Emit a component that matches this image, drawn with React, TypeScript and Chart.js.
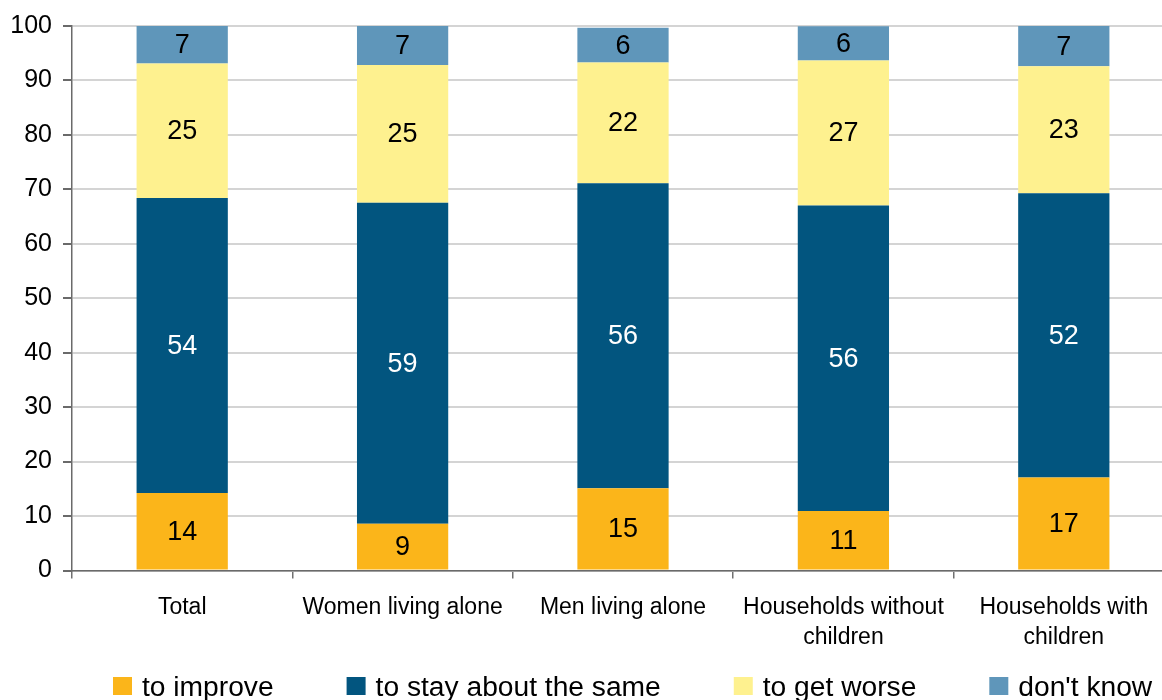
import React, { useEffect, useRef } from "react";
import { Chart, registerables } from "chart.js";

Chart.register(...registerables);

// Expectations by household type (%), stacked bottom to top
const categories: (string | string[])[] = [
  "Total",
  "Women living alone",
  "Men living alone",
  ["Households without", "children"],
  ["Households with", "children"],
];

const seriesNames = ["to improve", "to stay about the same", "to get worse", "don't know"];

const toImprove = [14.25, 8.6, 15.1, 10.95, 17.1];
const toStaySame = [54.15, 58.95, 56.0, 56.1, 52.2];
const toGetWorse = [24.7, 25.3, 22.2, 26.6, 23.3];
const dontKnow = [6.9, 7.2, 6.4, 6.3, 7.4];

const yTicks = [0, 10, 20, 30, 40, 50, 60, 70, 80, 90, 100];

const seriesColors = ["#FBB51A", "#02557F", "#FEF18F", "#5F96BA"];
const labelColors = ["#000000", "#FFFFFF", "#000000", "#000000"];

const FONT = "'Liberation Sans', Arial, Helvetica, sans-serif";

// Value labels centred inside every stacked segment
const segmentLabels = {
  id: "segmentLabels",
  afterDatasetsDraw(chart: any) {
    const ctx = chart.ctx;
    ctx.save();
    ctx.font = `27px ${FONT}`;
    ctx.textAlign = "center";
    ctx.textBaseline = "middle";
    chart.data.datasets.forEach((ds: any, i: number) => {
      const meta = chart.getDatasetMeta(i);
      meta.data.forEach((bar: any, j: number) => {
        const v = ds.data[j];
        const { x, y, base } = bar.getProps(["x", "y", "base"], true);
        ctx.fillStyle = labelColors[i];
        ctx.fillText(String(Math.round(v)), x, (y + base) / 2 + 1);
      });
    });
    ctx.restore();
  },
};

// Single-row legend along the bottom edge
const bottomLegend = {
  id: "bottomLegend",
  afterDraw(chart: any) {
    const ctx = chart.ctx;
    ctx.save();
    ctx.font = `28.2px ${FONT}`;
    ctx.textAlign = "left";
    ctx.textBaseline = "alphabetic";
    let x = 113;
    chart.data.datasets.forEach((ds: any) => {
      ctx.fillStyle = ds.backgroundColor;
      ctx.fillRect(x, 677, 19, 18);
      ctx.fillStyle = "#000000";
      ctx.fillText(ds.label, x + 29, 695.5);
      x += 29 + ctx.measureText(ds.label).width + 73;
    });
    ctx.restore();
  },
};

export default function App() {
  const canvasRef = useRef<HTMLCanvasElement | null>(null);

  useEffect(() => {
    if (!canvasRef.current) return;
    const values = [toImprove, toStaySame, toGetWorse, dontKnow];
    const chart = new Chart(canvasRef.current, {
      type: "bar",
      data: {
        labels: categories,
        datasets: seriesNames.map((name, i) => ({
          label: name,
          data: values[i],
          backgroundColor: seriesColors[i],
          borderWidth: 0,
          categoryPercentage: 1,
          barPercentage: 0.414,
        })),
      },
      options: {
        responsive: false,
        animation: false,
        devicePixelRatio: 1,
        layout: { padding: { top: 24.5, right: 16, bottom: 0, left: 0 } },
        plugins: {
          legend: { display: false },
          tooltip: { enabled: false },
          title: { display: false },
        },
        scales: {
          x: {
            stacked: true,
            afterFit: (scale: any) => {
              scale.height = 129.5;
            },
            grid: {
              offset: true,
              drawOnChartArea: false,
              drawTicks: true,
              tickLength: 8,
              tickColor: "#707070",
              lineWidth: 1.5,
            },
            border: { display: true, color: "#6a6a6a", width: 1.5 },
            ticks: {
              color: "#000000",
              padding: 14.5,
              maxRotation: 0,
              autoSkip: false,
              font: { family: FONT, size: 23, lineHeight: 30 / 23 },
            },
          },
          y: {
            stacked: true,
            min: 0,
            max: 100,
            afterFit: (scale: any) => {
              scale.width = 72;
            },
            afterBuildTicks: (scale: any) => {
              scale.ticks = yTicks.map((v) => ({ value: v }));
            },
            grid: {
              color: "#D4D4D4",
              lineWidth: 2,
              drawTicks: true,
              tickLength: 9,
              tickColor: "#6a6a6a",
            },
            border: { display: true, color: "#6a6a6a", width: 1.5 },
            ticks: {
              color: "#000000",
              padding: 11,
              font: { family: FONT, size: 25 },
            },
          },
        },
      },
      plugins: [segmentLabels, bottomLegend],
    });
    return () => chart.destroy();
  }, []);

  return (
    <div
      style={{
        position: "fixed",
        left: 0,
        top: 0,
        width: 1162,
        height: 700,
        overflow: "hidden",
        background: "#ffffff",
      }}
    >
      <canvas
        ref={canvasRef}
        width={1190}
        height={700}
        style={{ width: 1190, height: 700, display: "block" }}
      />
    </div>
  );
}
